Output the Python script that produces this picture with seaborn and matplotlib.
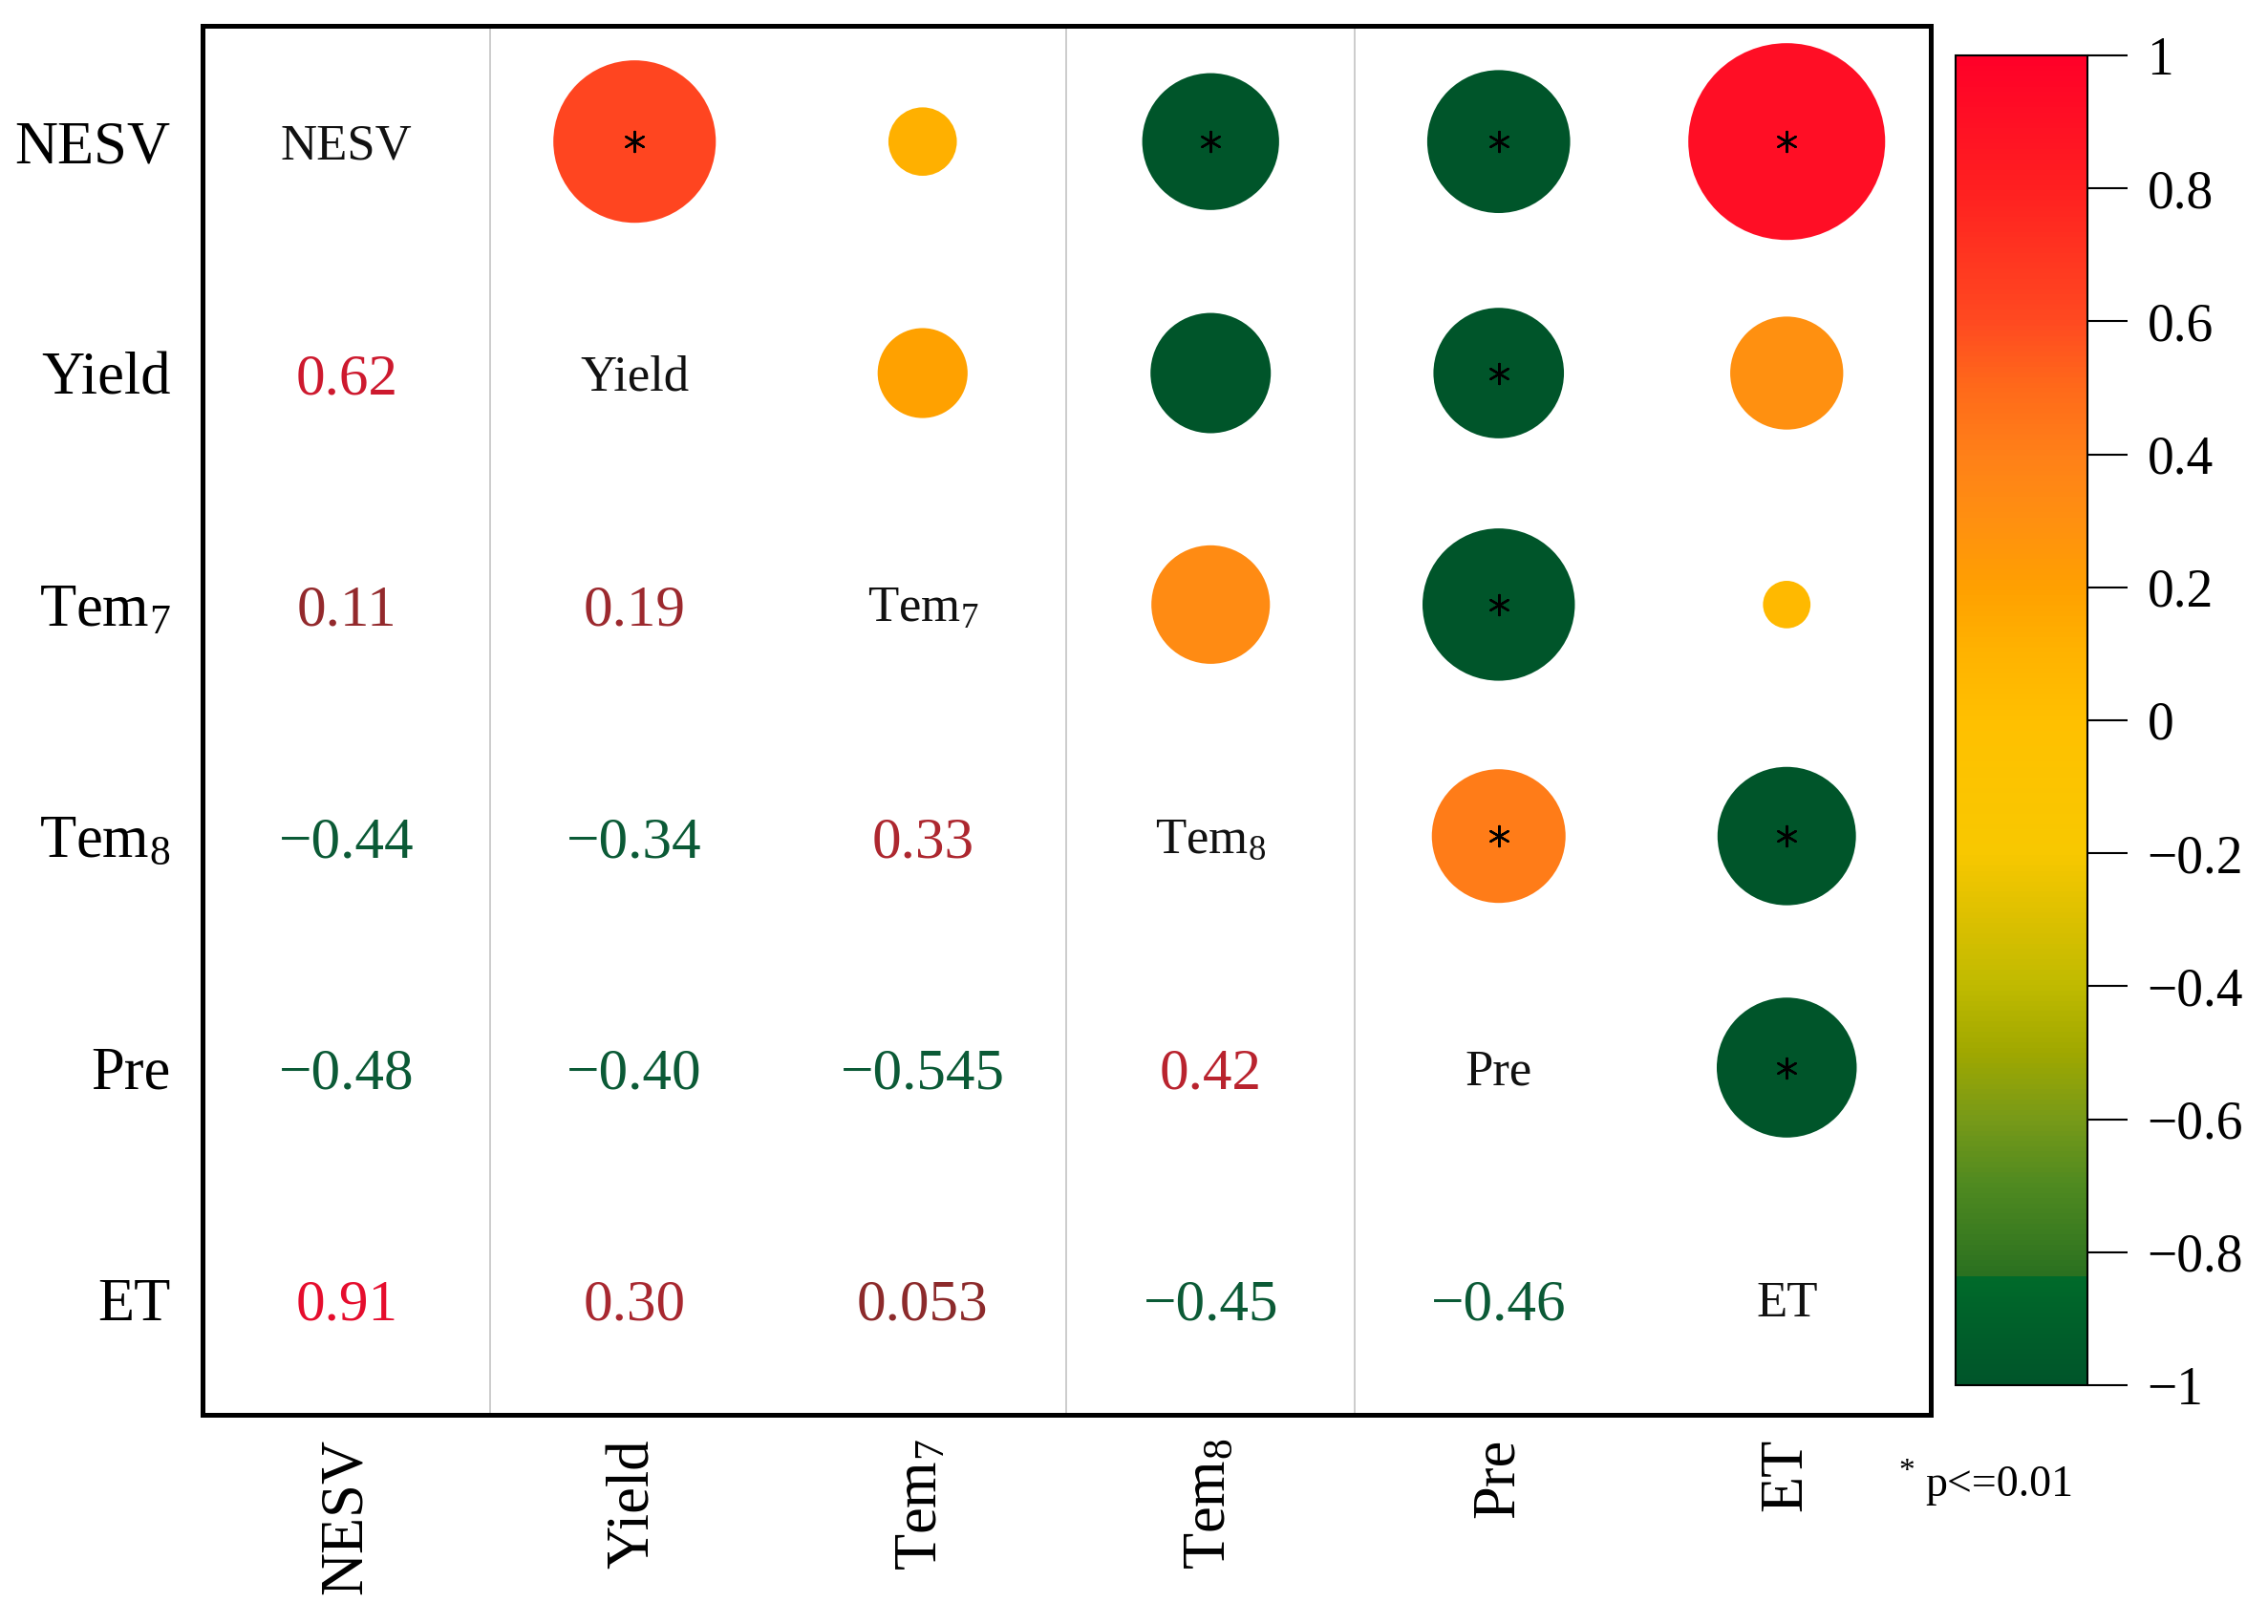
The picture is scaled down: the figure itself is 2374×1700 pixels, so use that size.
import numpy as np
import pandas as pd
import matplotlib
matplotlib.use("Agg")
import matplotlib.pyplot as plt
import seaborn as sns
from matplotlib.colors import LinearSegmentedColormap, Normalize
from matplotlib.cm import ScalarMappable

# ---------------- data ----------------
variables = ["NESV", "Yield", "Tem7", "Tem8", "Pre", "ET"]
display_labels = ["NESV", "Yield", r"Tem$_7$", r"Tem$_8$", "Pre", "ET"]
# lower-triangle correlations, row by row (row i, columns 0..i-1)
corr_yield = [0.62]
corr_tem7 = [0.11, 0.19]
corr_tem8 = [-0.44, -0.34, 0.33]
corr_pre = [-0.48, -0.40, -0.545, 0.42]
corr_et = [0.91, 0.30, 0.053, -0.45, -0.46]
lower_rows = [[], corr_yield, corr_tem7, corr_tem8, corr_pre, corr_et]
# significant pairs (p <= 0.01)
significant = [("NESV", "Yield"), ("NESV", "Tem8"), ("NESV", "Pre"), ("NESV", "ET"),
               ("Yield", "Pre"), ("Tem7", "Pre"), ("Tem8", "Pre"), ("Tem8", "ET"),
               ("Pre", "ET")]
cbar_ticks = [1, 0.8, 0.6, 0.4, 0.2, 0, -0.2, -0.4, -0.6, -0.8, -1]

# ---------------- build tables ----------------
n = len(variables)
recs = []
for i in range(n):
    for j in range(i):
        recs.append(dict(row=i, col=j, r=lower_rows[i][j]))
lower = pd.DataFrame(recs)
upper = lower.rename(columns={"row": "col", "col": "row"}).copy()
upper["absr"] = upper["r"].abs()
sig_set = {(variables.index(a), variables.index(b)) for a, b in significant}
upper["sig"] = [(r, c) in sig_set for r, c in zip(upper["row"], upper["col"])]

# ---------------- colormaps ----------------
bar_cmap = LinearSegmentedColormap.from_list("bar", [
    (0.00, "#00552A"), (0.08, "#006A2A"), (0.0801, "#2A7020"),
    (0.15, "#508A20"), (0.20, "#789A18"), (0.25, "#A0A800"),
    (0.30, "#C0BA00"), (0.35, "#DCC000"), (0.40, "#F8C800"),
    (0.50, "#FFC000"), (0.55, "#FFB300"), (0.60, "#FFA000"),
    (0.65, "#FF9010"), (0.70, "#FF8018"), (0.75, "#FF6A1A"),
    (0.80, "#FF4A20"), (0.90, "#FF2020"), (1.00, "#FF0028")])
circle_cmap = LinearSegmentedColormap.from_list("circ", [
    (0.00, "#00552A"), (0.4999, "#00552A"), (0.50, "#FFC000"),
    (0.55, "#FFB300"), (0.60, "#FFA000"), (0.65, "#FF9010"),
    (0.70, "#FF8018"), (0.75, "#FF6A1A"), (0.80, "#FF4A20"),
    (0.90, "#FF2020"), (1.00, "#FF0028")])
text_cmap = LinearSegmentedColormap.from_list("txt", [
    (0.00, "#0B5A36"), (0.4999, "#0B5A36"), (0.50, "#862A2A"),
    (0.65, "#A82830"), (0.75, "#C4202C"), (0.85, "#D21430"),
    (1.00, "#EC0A2C")])
norm = Normalize(-1, 1)

# ---------------- figure ----------------
sns.set_style("white")
plt.rcParams["font.family"] = ["Liberation Serif", "DejaVu Serif"]
plt.rcParams["mathtext.fontset"] = "custom"
plt.rcParams["mathtext.rm"] = "Liberation Serif"
plt.rcParams["mathtext.it"] = "Liberation Serif:italic"
plt.rcParams["axes.unicode_minus"] = True
plt.rcParams["text.color"] = "black"
plt.rcParams["xtick.color"] = "black"
plt.rcParams["ytick.color"] = "black"

fig = plt.figure(figsize=(23.74, 17), dpi=100)
ax = fig.add_axes([0.0893, 0.1288, 0.762, 0.8553])
cax = fig.add_axes([0.8623, 0.1471, 0.0581, 0.8188])

# grid separators
for xv in [0.5, 2.5, 3.5]:
    ax.axvline(xv, color="#C8C8C8", lw=1.3, zorder=0)

# circles in upper triangle
s_max = (216 * 72 / 100) ** 2
sns.scatterplot(data=upper, x="col", y="row", hue="r", palette=circle_cmap,
                hue_norm=(-1, 1), size="absr", sizes=(0, s_max), size_norm=(0, 1),
                edgecolor="none", linewidth=0, legend=False, ax=ax, zorder=2)

# asterisks
sig_df = upper[upper["sig"]]
ax.scatter(sig_df["col"], sig_df["row"], marker=(6, 2, 0), s=230,
           color="black", linewidths=1.7, zorder=3)

# numbers in lower triangle
def fmt(v):
    s = f"{abs(v):.3f}".rstrip("0")
    if len(s.split(".")[1]) < 2:
        s = f"{abs(v):.2f}"
    return ("\u2212" if v < 0 else "") + s

for _, rw in lower.iterrows():
    ax.text(rw["col"], rw["row"] + 0.03, fmt(rw["r"]), ha="center", va="center",
            fontsize=44, color=text_cmap(norm(rw["r"])))

# diagonal labels
for k, lab in enumerate(display_labels):
    ax.text(k, k + 0.02, lab, ha="center", va="center", fontsize=38, color="#111111")

ax.set_xlim(-0.5, n - 0.5)
ax.set_ylim(n - 0.5, -0.5)
ax.set_xticks(range(n))
ax.set_yticks(range(n))
ax.set_xticklabels(display_labels, rotation=90, fontsize=45, va="top", ha="center",
                   color="black")
ax.set_yticklabels(display_labels, fontsize=45, color="black")
ax.tick_params(axis="both", length=0)
ax.tick_params(axis="x", pad=18)
ax.tick_params(axis="y", pad=24)
ax.set_xlabel("")
ax.set_ylabel("")
for sp in ax.spines.values():
    sp.set_visible(True)
    sp.set_color("black")
    sp.set_linewidth(3.6)

# colorbar
sm = ScalarMappable(norm=norm, cmap=bar_cmap)
cb = fig.colorbar(sm, cax=cax, ticks=cbar_ticks)
cb.ax.set_yticklabels([("\u2212" if t < 0 else "") + f"{abs(t):g}" for t in cbar_ticks],
                      color="black")
cb.ax.tick_params(length=30, width=1.5, labelsize=40, pad=15, direction="out",
                  color="black")
cb.outline.set_linewidth(1.5)
cb.outline.set_edgecolor("black")

# significance note
fig.text(1996 / 2374, 1 - 1541 / 1700, "*", fontsize=24, ha="center", va="center")
fig.text(2015 / 2374, 1 - 1555 / 1700, "p<=0.01", fontsize=33, ha="left", va="center")

fig.savefig("out.png", dpi=100, facecolor="white")
